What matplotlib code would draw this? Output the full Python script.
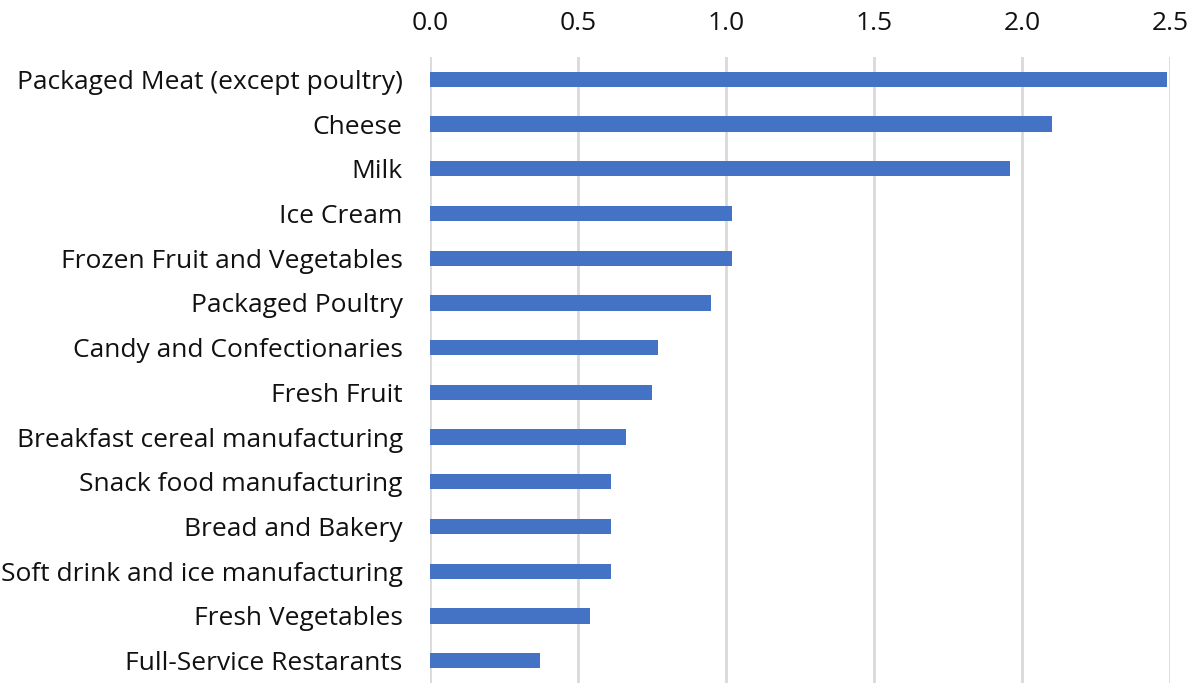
import matplotlib.pyplot as plt

# --- Data (top to bottom) ---
categories = [
    "Packaged Meat (except poultry)",
    "Cheese",
    "Milk",
    "Ice Cream",
    "Frozen Fruit and Vegetables",
    "Packaged Poultry",
    "Candy and Confectionaries",
    "Fresh Fruit",
    "Breakfast cereal manufacturing",
    "Snack food manufacturing",
    "Bread and Bakery",
    "Soft drink and ice manufacturing",
    "Fresh Vegetables",
    "Full-Service Restarants",
]
values = [2.49, 2.10, 1.96, 1.02, 1.02, 0.95, 0.77, 0.75, 0.66, 0.61, 0.61, 0.61, 0.54, 0.37]
xticks = [0.0, 0.5, 1.0, 1.5, 2.0, 2.5]

plt.rcParams['font.family'] = ['Open Sans', 'DejaVu Sans']

fig = plt.figure(figsize=(11.89, 6.83), dpi=100)
ax = fig.add_axes([0.362, 0.0, 0.622, 0.9165])

ypos = list(range(len(categories)))
ax.barh(ypos, values, height=0.34, color='#4472C4', zorder=3)

ax.set_ylim(len(categories) - 0.5, -0.5)
ax.set_xlim(0, 2.5)
ax.set_yticks(ypos)
ax.set_yticklabels(categories, fontsize=19, color='#111111')
ax.set_xticks(xticks)
ax.set_xticklabels([f"{t:.1f}" for t in xticks], fontsize=19, color='#111111')

ax.xaxis.tick_top()
ax.tick_params(axis='x', length=0, pad=15)
ax.tick_params(axis='y', length=0, pad=20)
ax.grid(axis='x', color='#d9d9d9', linewidth=2, zorder=0)
for s in ax.spines.values():
    s.set_visible(False)

fig.savefig("out.png", dpi=100)
